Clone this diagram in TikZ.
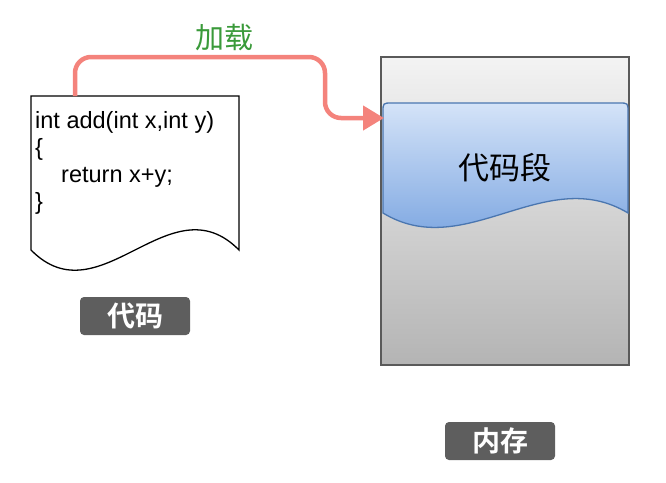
\documentclass[tikz,border=0pt]{standalone}
\usepackage{fontspec}
\setmainfont{Liberation Sans}
\newfontfamily\cjk{Noto Sans CJK SC}
\newfontfamily\cjkb{Noto Sans CJK SC Bold}
\usetikzlibrary{arrows.meta}
\definecolor{arrowred}{HTML}{F4837C}
\definecolor{loadgreen}{HTML}{3A9A3A}
\definecolor{memtop}{HTML}{F3F3F3}
\definecolor{membot}{HTML}{B4B4B4}
\definecolor{memline}{HTML}{5A5A5A}
\definecolor{segtop}{HTML}{D4E3F8}
\definecolor{segbot}{HTML}{6E9CDD}
\definecolor{segline}{HTML}{4A76B0}
\definecolor{tagfill}{HTML}{5E5E5E}
\tikzset{
  codeline/.style={anchor=base west, inner sep=0pt, font=\fontsize{23.5}{27}\selectfont},
  tag/.style={fill=tagfill, rounded corners=4pt, text=white, minimum width=110pt, minimum height=38pt, inner sep=0pt, font=\cjkb\fontsize{28}{30}\selectfont},
  loadarrow/.style={draw=arrowred, line width=4.5pt, rounded corners=16pt, -{Triangle[width=24pt,length=21pt]}},
}
\begin{document}
\begin{tikzpicture}[x=1pt,y=-1pt]
\useasboundingbox (0,0) rectangle (666,482);
% memory block
\shade[top color=memtop, bottom color=membot, draw=memline, line width=1.5pt] (381,57) rectangle (629,365);
\coordinate (memnw) at (381,57);
% code segment
\shade[top color=segtop, bottom color=segbot, draw=segline, line width=1.3pt]
  (383,213) -- (383,112) .. controls (383,103) .. (392,103) -- (619,103) .. controls (628,103) .. (628,112) -- (628,213)
  .. controls (545,163) and (465,263) .. (383,213) -- cycle;
\node[font=\cjk\fontsize{31}{34}\selectfont, inner sep=0pt] (seg) at (505,168) {代码段};
\coordinate (segin) at (384,118);
% code document
\draw[line width=1.3pt, fill=white] (31,96) -- (239,96) -- (239,250) .. controls (170,180) and (100,320) .. (31,250) -- cycle;
\coordinate (doctop) at (75,96);
\node[codeline] (l1) at (35,128) {int add(int x,int y)};
\node[codeline] (l2) at (35,155) {\{};
\node[codeline] (l3) at (61,182) {return x+y;};
\node[codeline] (l4) at (35,209) {\}};
% arrow
\coordinate (c1) at (75,57);
\coordinate (c2) at (325,57);
\coordinate (c3) at (325,118);
\draw[loadarrow] (doctop) -- (c1) -- (c2) -- (c3) -- (segin);
\node[font=\cjk\fontsize{29}{32}\selectfont, text=loadgreen, inner sep=0pt] (load) at (224,37) {加载};
% tags
\node[tag] (tagcode) at (135,316) {代码};
\node[tag] (tagmem) at (500,441) {内存};
\end{tikzpicture}
\end{document}
